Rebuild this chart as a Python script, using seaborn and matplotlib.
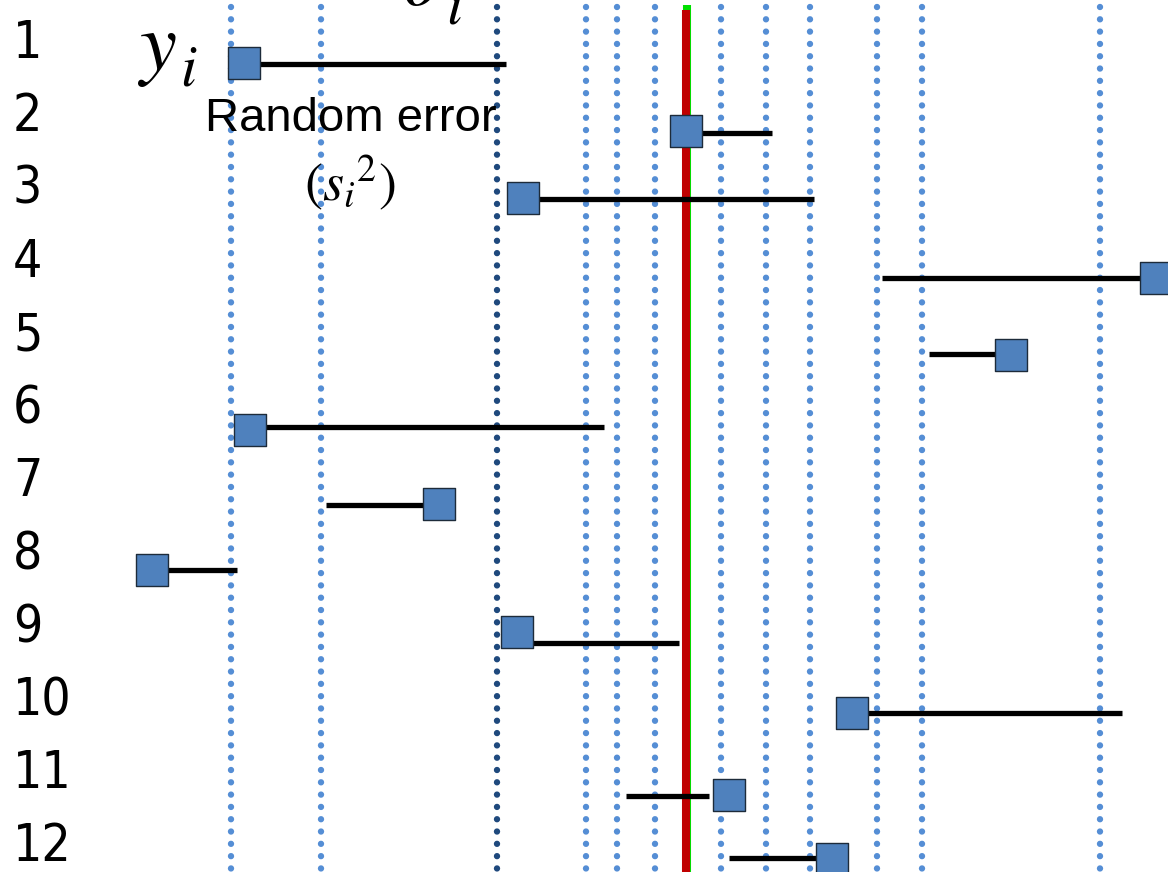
import matplotlib
matplotlib.use("Agg")
import matplotlib.pyplot as plt
import seaborn as sns
import pandas as pd

# ---------------- data (schematic units = horizontal position) ----------------
studies = [str(i) for i in range(1, 13)]
label_y = [44, 117, 190, 263, 336, 409, 482, 555, 628, 701, 774, 847]
est_x = [244, 686, 523, 1156, 1011, 250, 439, 152, 517, 852, 729, 832]
est_y = [63, 131, 198, 278, 355, 430, 504, 570, 632, 713, 795, 859]
err_lo = [244, 686, 523, 882, 929, 250, 326, 152, 517, 852, 626, 729]
err_hi = [506, 772, 814, 1156, 1011, 604, 439, 237, 679, 1122, 709, 832]
err_y = [64, 133, 199, 278, 354, 427, 505, 570, 643, 713, 796, 858]
grid_x = [231, 321, 586, 617, 655, 721, 766, 810, 877, 922, 1100]
dark_x = [497]
true_red = [686]
true_green = [687]

sns.set_theme(style="white")
plt.rcParams["mathtext.fontset"] = "stix"

W, H = 1168, 872
fig = plt.figure(figsize=(W / 100, H / 100), dpi=100)
ax = fig.add_axes([0, 0, 1, 1])

# dotted vertical reference lines (dot ~6 px, pitch ~12.3 px)
dot_lw = 4.6
dot_gap = 12.3 / (dot_lw * 100 / 72)
for gx in grid_x:
    ax.plot([gx, gx], [7.3, H + 5], color="#558ED5", linewidth=dot_lw,
            linestyle=(0, (0.001, dot_gap)), dash_capstyle="round", zorder=1)
for gx in dark_x:
    ax.plot([gx, gx], [7.3, H + 5], color="#1F497D", linewidth=dot_lw,
            linestyle=(0, (0.001, dot_gap)), dash_capstyle="round", zorder=1)

# true effect lines
ax.vlines(true_green, 5, H, colors="#00E000", linewidth=5.8, zorder=2)
ax.vlines(true_red, 10, H, colors="#C00000", linewidth=5.8, zorder=3)

# random error bars
ax.hlines(err_y, err_lo, err_hi, colors="black", linewidth=3.8, zorder=4)

# study estimates
df = pd.DataFrame({"x": est_x, "y": est_y, "study": studies})
sns.scatterplot(data=df, x="x", y="y", marker="s", s=520, color="#4F81BD",
                edgecolor="#1d2b3a", linewidth=1.0, ax=ax, zorder=5, legend=False)
ax.set_xlim(0, W)
ax.set_ylim(H, 0)
ax.axis("off")

# row labels
for lab, yy in zip(studies, label_y):
    ax.text(13, yy, lab, fontsize=37, family="DejaVu Sans", stretch="condensed",
            ha="left", va="center", color="black")

# annotations
ax.text(137, 70, r"$y$", fontsize=60, ha="left", va="baseline", color="black", zorder=6)
ax.text(180, 86, r"$i$", fontsize=42, ha="left", va="baseline", color="black", zorder=6)
ax.text(402, 5, r"$\theta$", fontsize=60, ha="left", va="baseline", color="black", zorder=6)
ax.text(446, 24, r"$i$", fontsize=42, ha="left", va="baseline", color="black", zorder=6)
ax.text(351, 119, "Random error", fontsize=34, family="Liberation Sans",
        ha="center", va="center", color="black", zorder=6)
ax.text(350, 183, r"$(s_i{}^2)$", fontsize=39, ha="center", va="center",
        color="black", zorder=6)

fig.savefig("out.png", dpi=100)
